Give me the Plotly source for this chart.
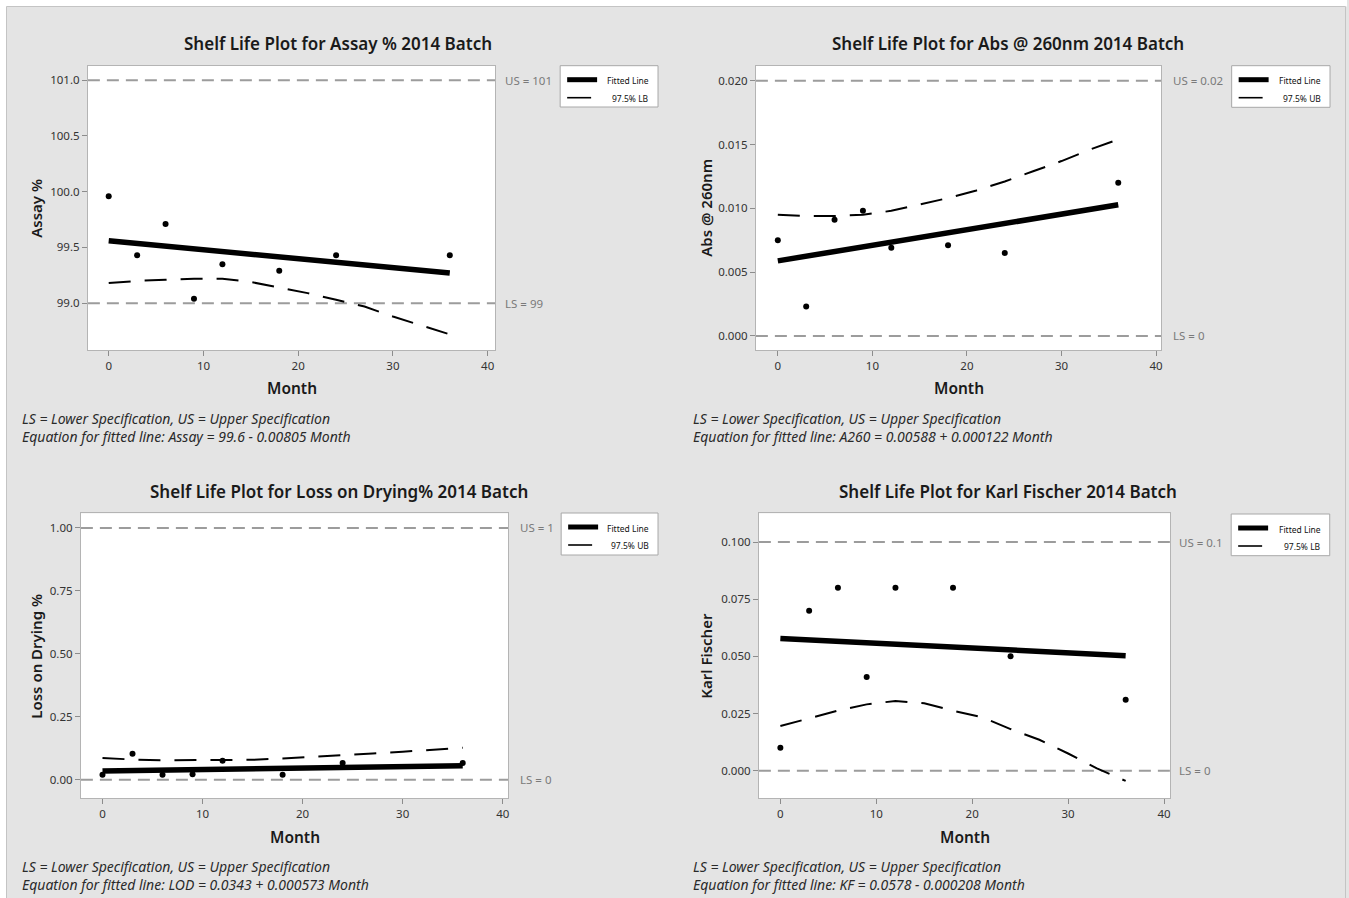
import plotly.graph_objects as go

W, H = 1349, 898

# ---- stability data (months on test) ----
MONTHS = [0, 3, 6, 9, 12, 18, 24, 36]
BOUND_MONTHS = [0, 3, 6, 9, 12, 15, 18, 21, 24, 27, 30, 33, 36]
FIT_SPAN = [0, 36]

ASSAY = [99.96, 99.43, 99.71, 99.04, 99.35, 99.29, 99.43, 99.43]
ASSAY_LB = [99.18, 99.20, 99.21, 99.22, 99.22, 99.19, 99.14, 99.09, 99.03,
            98.97, 98.88, 98.80, 98.72]
ASSAY_FIT = (99.56, -0.00805)
ASSAY_SPEC = (99, 101)

A260 = [0.0075, 0.0023, 0.0091, 0.0098, 0.0069, 0.0071, 0.0065, 0.0120]
A260_UB = [0.0095, 0.0094, 0.0094, 0.0095, 0.0098, 0.0103, 0.0108, 0.0114,
           0.0121, 0.0129, 0.0137, 0.0146, 0.0154]
A260_FIT = (0.00588, 0.000122)
A260_SPEC = (0, 0.02)

LOD = [0.020, 0.103, 0.020, 0.022, 0.075, 0.020, 0.066, 0.066]
LOD_UB = [0.086, 0.080, 0.077, 0.077, 0.077, 0.079, 0.084, 0.090, 0.095,
          0.104, 0.111, 0.120, 0.127]
LOD_FIT = (0.0343, 0.000573)
LOD_SPEC = (0, 1)

KF = [0.010, 0.070, 0.080, 0.041, 0.080, 0.080, 0.050, 0.031]
KF_LB = [0.0195, 0.0230, 0.0263, 0.0290, 0.0305, 0.0295, 0.0262, 0.0234,
         0.0182, 0.0135, 0.0075, 0.0010, -0.0045]
KF_FIT = (0.0578, -0.000208)
KF_SPEC = (0, 0.1)

X_TICKS = [0, 10, 20, 30, 40]

FONT = "Noto Sans"
BG = "#e4e4e4"


def px_x(v):
    return v / W


def px_y(v):
    return 1 - v / H


panels = [
    dict(title="Shelf Life Plot for Assay % 2014 Batch", ytitle="Assay %",
         name="Assay", values=ASSAY, bound=ASSAY_LB, bound_name="97.5% LB",
         fit=ASSAY_FIT, spec=ASSAY_SPEC,
         frame=(88, 65.7, 496, 350), xr=[-2.2, 40.8], yr=[98.58, 101.13],
         yt=[99.0, 99.5, 100.0, 100.5, 101.0], yfmt=".1f",
         leg=(561, 65.7, 659, 107), tcx=339, tcy=43, ytx=36, xty=388,
         fx=20.5, fy=(418.3, 436.7), sx=504),
    dict(title="Shelf Life Plot for Abs @ 260nm 2014 Batch", ytitle="Abs @ 260nm",
         name="A260", values=A260, bound=A260_UB, bound_name="97.5% UB",
         fit=A260_FIT, spec=A260_SPEC,
         frame=(757, 65.7, 1163, 350), xr=[-2.32, 40.55], yr=[-0.0011, 0.02117],
         yt=[0.0, 0.005, 0.010, 0.015, 0.020], yfmt=".3f",
         leg=(1233.5, 65.7, 1332, 107.3), tcx=1009.5, tcy=43, ytx=707, xty=388,
         fx=692.5, fy=(418.3, 436.7), sx=1173),
    dict(title="Shelf Life Plot for Loss on Drying% 2014 Batch", ytitle="Loss on Drying %",
         name="LOD", values=LOD, bound=LOD_UB, bound_name="97.5% UB",
         fit=LOD_FIT, spec=LOD_SPEC,
         frame=(81, 513.3, 509, 798.3), xr=[-2.16, 40.55], yr=[-0.074, 1.058],
         yt=[0.0, 0.25, 0.5, 0.75, 1.0], yfmt=".2f",
         leg=(562, 513, 659, 555), tcx=340, tcy=491.7, ytx=36, xty=836.7,
         fx=20.5, fy=(866, 884.3), sx=519),
    dict(title="Shelf Life Plot for Karl Fischer 2014 Batch", ytitle="Karl Fischer",
         name="KF", values=KF, bound=KF_LB, bound_name="97.5% LB",
         fit=KF_FIT, spec=KF_SPEC,
         frame=(760, 513.3, 1172, 798.3), xr=[-2.24, 40.65], yr=[-0.0121, 0.1126],
         yt=[0.0, 0.025, 0.05, 0.075, 0.1], yfmt=".3f",
         leg=(1233, 514, 1331.7, 555.7), tcx=1009, tcy=491.7, ytx=707, xty=836.7,
         fx=692.5, fy=(866, 884.3), sx=1179),
]

fig = go.Figure()
shapes = []
annotations = []

for i, p in enumerate(panels, start=1):
    sfx = "" if i == 1 else str(i)
    xa, ya = "x" + sfx, "y" + sfx
    x0, y0, x1, y1 = p["frame"]

    fig.update_layout(**{
        "xaxis" + sfx: dict(
            domain=[px_x(x0), px_x(x1)], range=p["xr"], anchor=ya,
            tickvals=X_TICKS, ticks="outside", ticklen=5, tickcolor="#8c8c8c",
            showline=True, mirror=True, linecolor="#b4b4b4", linewidth=1,
            showgrid=False, zeroline=False,
            tickfont=dict(family=FONT, size=11.5, color="#333333")),
        "yaxis" + sfx: dict(
            domain=[px_y(y1), px_y(y0)], range=p["yr"], anchor=xa,
            tickvals=p["yt"], tickformat=p["yfmt"], ticks="outside", ticklen=5,
            tickcolor="#8c8c8c",
            showline=True, mirror=True, linecolor="#b4b4b4", linewidth=1,
            showgrid=False, zeroline=False,
            tickfont=dict(family=FONT, size=11.5, color="#333333")),
    })

    b0, b1 = p["fit"]
    fit_y = [b0 + b1 * m for m in FIT_SPAN]

    # confidence bound (dashed)
    fig.add_trace(go.Scatter(
        x=BOUND_MONTHS, y=p["bound"], mode="lines", xaxis=xa, yaxis=ya,
        line=dict(color="black", width=2, dash="22px,14px"),
        showlegend=False, hoverinfo="skip"))
    # fitted regression line
    fig.add_trace(go.Scatter(
        x=FIT_SPAN, y=fit_y, mode="lines", xaxis=xa, yaxis=ya,
        line=dict(color="black", width=5.5), showlegend=False))
    # observations
    fig.add_trace(go.Scatter(
        x=MONTHS, y=p["values"], mode="markers", xaxis=xa, yaxis=ya,
        marker=dict(color="black", size=6), showlegend=False))

    # specification limits
    lo, hi = p["spec"]
    for val, lab in ((hi, "US"), (lo, "LS")):
        shapes.append(dict(
            type="line", xref=xa + " domain", yref=ya, x0=0, x1=1, y0=val, y1=val,
            line=dict(color="#9c9c9c", width=2, dash="12px,7px"), layer="below"))
        annotations.append(dict(
            xref="paper", yref=ya, x=px_x(p["sx"]), y=val, xanchor="left",
            yanchor="middle", showarrow=False, text=f"{lab} = {val:g}",
            font=dict(family=FONT, size=11.5, color="#7a7a7a")))

    # panel title
    annotations.append(dict(
        xref="paper", yref="paper", x=px_x(p["tcx"]), y=px_y(p["tcy"]),
        xanchor="center", yanchor="middle", showarrow=False, text=p["title"],
        font=dict(family=FONT, size=17, color="#1a1a1a", weight=600)))
    # axis titles
    annotations.append(dict(
        xref="paper", yref="paper", x=px_x(p["ytx"]), y=px_y((y0 + y1) / 2),
        xanchor="center", yanchor="middle", showarrow=False, text=p["ytitle"],
        textangle=-90, font=dict(family=FONT, size=15, color="#1a1a1a", weight=600)))
    annotations.append(dict(
        xref="paper", yref="paper", x=px_x((x0 + x1) / 2), y=px_y(p["xty"]),
        xanchor="center", yanchor="middle", showarrow=False, text="Month",
        font=dict(family=FONT, size=15.5, color="#1a1a1a", weight=600)))

    # footnotes
    sign = "-" if b1 < 0 else "+"
    eq = f"Equation for fitted line: {p['name']} = {b0:.3g} {sign} {abs(b1):.3g} Month"
    for txt, fy in zip(("LS = Lower Specification, US = Upper Specification", eq), p["fy"]):
        annotations.append(dict(
            xref="paper", yref="paper", x=px_x(p["fx"]), y=px_y(fy),
            xanchor="left", yanchor="middle", showarrow=False, text=txt,
            font=dict(family=FONT, size=14, color="#2a2a2a", style="italic")))

    # legend box
    lx0, ly0, lx1, ly1 = p["leg"]
    shapes.append(dict(type="rect", xref="paper", yref="paper",
                       x0=px_x(lx0), x1=px_x(lx1), y0=px_y(ly1), y1=px_y(ly0),
                       fillcolor="white", line=dict(color="#a8a8a8", width=1)))
    shapes.append(dict(type="line", xref="paper", yref="paper",
                       x0=px_x(lx0 + 7), x1=px_x(lx0 + 37),
                       y0=px_y(ly0 + 14), y1=px_y(ly0 + 14),
                       line=dict(color="black", width=5)))
    shapes.append(dict(type="line", xref="paper", yref="paper",
                       x0=px_x(lx0 + 7), x1=px_x(lx0 + 31),
                       y0=px_y(ly0 + 32), y1=px_y(ly0 + 32),
                       line=dict(color="black", width=1.6)))
    for txt, dy in (("Fitted Line", 15), (p["bound_name"], 32.5)):
        annotations.append(dict(
            xref="paper", yref="paper", x=px_x(lx1 - 7), y=px_y(ly0 + dy),
            xanchor="right", yanchor="middle", showarrow=False, text=txt,
            font=dict(family=FONT, size=8.5, color="#111111")))

# outer white margin and border of the gray canvas
shapes.append(dict(type="rect", xref="paper", yref="paper", x0=0, x1=1,
                   y0=px_y(6.5), y1=1.01, fillcolor="white", line=dict(width=0)))
shapes.append(dict(type="rect", xref="paper", yref="paper", x0=-0.01, x1=px_x(6.5),
                   y0=-0.01, y1=1.01, fillcolor="white", line=dict(width=0)))
for (ax0, ay0, ax1, ay1) in ((6.5, 6.5, 1347.5, 6.5), (6.5, 6.5, 6.5, 898),
                             (1347.5, 6.5, 1347.5, 898)):
    shapes.append(dict(type="line", xref="paper", yref="paper",
                       x0=px_x(ax0), x1=px_x(ax1), y0=px_y(ay0), y1=px_y(ay1),
                       line=dict(color="#c4c4c4", width=1)))

fig.update_layout(
    width=W, height=H, margin=dict(l=0, r=0, t=0, b=0),
    paper_bgcolor=BG, plot_bgcolor="white",
    showlegend=False, shapes=shapes, annotations=annotations,
    font=dict(family=FONT),
)

fig.write_html("out.html")
